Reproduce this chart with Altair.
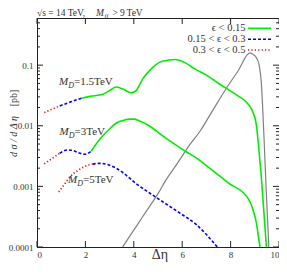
import altair as alt
import pandas as pd

# ---------------- data ----------------
# M_D = 1.5 TeV
md15_red_x = [0.30, 0.62, 0.94]
md15_red_y = [0.01652, 0.01884, 0.02128]
md15_blue_x = [0.94, 1.40, 1.83]
md15_blue_y = [0.02128, 0.02483, 0.02844]
md15_green_x = [1.83, 2.20, 2.72, 3.00, 3.27, 3.55, 3.88, 4.08, 4.36, 4.63, 5.18, 5.72,
                6.13, 6.55, 6.95, 7.36, 7.77, 8.32, 8.73, 8.93, 9.07, 9.17, 9.28, 9.38, 9.48]
md15_green_y = [0.02844, 0.03055, 0.03311, 0.03802, 0.04355, 0.04027, 0.03516, 0.03750,
                0.05834, 0.07980, 0.1164, 0.1239, 0.1091, 0.0851, 0.0705, 0.0547, 0.0425,
                0.0309, 0.0227, 0.0166, 0.0100, 0.00398, 0.00126, 0.000355, 0.0001]

# M_D = 3 TeV
md3_red_x = [0.30, 0.62, 0.94]
md3_red_y = [0.002355, 0.002884, 0.003516]
md3_blue_x = [0.94, 1.10, 1.28, 1.50, 1.75, 1.97, 2.24]
md3_blue_y = [0.003516, 0.003846, 0.003999, 0.003890, 0.003548, 0.003388, 0.003802]
md3_green_x = [2.24, 2.60, 3.06, 3.30, 3.61, 3.81, 4.02, 4.22, 4.63, 5.18, 5.60, 6.13,
               6.55, 7.20, 7.90, 8.73, 8.93, 9.07, 9.17, 9.22]
md3_green_y = [0.003802, 0.006026, 0.009376, 0.01122, 0.01239, 0.01288, 0.01288, 0.01208,
               0.0100, 0.006855, 0.005248, 0.003793, 0.00302, 0.001905, 0.001148,
               0.000628, 0.000407, 0.000245, 0.0001303, 0.0001]

# M_D = 5 TeV
md5_red_x = [0.90, 1.15, 1.42, 1.69, 1.97, 2.30]
md5_red_y = [0.000807, 0.001107, 0.001514, 0.001828, 0.002128, 0.002333]
md5_blue_x = [2.30, 2.58, 3.20, 3.61, 4.02, 4.90, 5.86, 6.55, 7.45]
md5_blue_y = [0.002333, 0.002399, 0.00207, 0.001614, 0.001175, 0.000668, 0.000372,
              0.00024, 0.0001]

# grey curve
grey_x = [3.54, 3.80, 4.09, 4.50, 5.00, 5.32, 5.80, 6.30, 6.75, 7.30, 7.84, 8.30, 8.80,
          8.95, 9.07, 9.18, 9.27, 9.37, 9.47, 9.58]
grey_y = [0.0001, 0.0001445, 0.0002153, 0.00038, 0.000759, 0.001259, 0.002399, 0.004786,
          0.008279, 0.01905, 0.04246, 0.07943, 0.1592, 0.1479, 0.1318, 0.1, 0.0513,
          0.007943, 0.000891, 0.0001]

x_tick_values = [0, 2, 4, 6, 8, 10]
y_tick_values = [0.0001, 0.001, 0.01, 0.1]
y_minor_values = [m * d for d in [0.0001, 0.001, 0.01, 0.1] for m in range(2, 10) if m * d <= 0.6]

legend_labels = ["\u03f5 < 0.15", "0.15 < \u03f5 < 0.3", "0.3 < \u03f5 < 0.5"]


def frame(curves):
    rows = []
    for name, xs, ys in curves:
        for a, b in zip(xs, ys):
            rows.append({"curve": name, "x": a, "y": b})
    return pd.DataFrame(rows)


df_red = frame([("1.5", md15_red_x, md15_red_y), ("3", md3_red_x, md3_red_y),
                ("5", md5_red_x, md5_red_y)])
df_blue = frame([("1.5", md15_blue_x, md15_blue_y), ("3", md3_blue_x, md3_blue_y),
                 ("5", md5_blue_x, md5_blue_y)])
df_green = frame([("1.5", md15_green_x, md15_green_y), ("3", md3_green_x, md3_green_y)])
df_grey = frame([("bg", grey_x, grey_y)])

W, H = 242, 229
FONT = "Liberation Serif"
TXT = "#333333"

xscale = alt.Scale(domain=[0, 10], nice=False, zero=False)
yscale = alt.Scale(type="log", domain=[0.0001, 0.6], nice=False)

x_axis = alt.Axis(values=x_tick_values, format="d", ticks=False, grid=False, title=None,
                  labelPadding=3, labelFont=FONT, labelFontSize=9, labelColor=TXT,
                  domainColor="#222222")
y_axis = alt.Axis(values=y_tick_values, format="~g", ticks=False, grid=False, title=None,
                  labelPadding=4, labelFont=FONT, labelFontSize=9, labelColor=TXT,
                  domainColor="#222222")

X = lambda f: alt.X(f, scale=xscale, axis=x_axis)
Y = lambda f: alt.Y(f, scale=yscale, axis=y_axis)


def line_layer(df, **kw):
    return alt.Chart(df).mark_line(interpolate="monotone", clip=True, **kw).encode(
        x=X("x:Q"), y=Y("y:Q"), detail="curve:N")


grey = line_layer(df_grey, color="#808080", strokeWidth=1.2)
green = line_layer(df_green, color="#00ee00", strokeWidth=1.6)
blue = line_layer(df_blue, color="#0000ff", strokeWidth=1.6, strokeDash=[3, 2])
red = line_layer(df_red, color="#ff0000", strokeWidth=1.6, strokeDash=[1.2, 2.2])

# inward ticks
df_ymaj = pd.DataFrame({"x": [0.0] * len(y_tick_values), "y": y_tick_values})
df_ymin = pd.DataFrame({"x": [0.0] * len(y_minor_values), "y": y_minor_values})
df_xmaj = pd.DataFrame({"x": x_tick_values, "y": [0.0001] * len(x_tick_values)})


def ytick(df, x0, x1):
    return alt.Chart(df).mark_rule(color="#222222", strokeWidth=1).encode(
        y=Y("y:Q"), x=alt.value(x0), x2=alt.value(x1))


def xtick(df, y0, y1):
    return alt.Chart(df).mark_rule(color="#222222", strokeWidth=1).encode(
        x=X("x:Q"), y=alt.value(y0), y2=alt.value(y1))


ticks = [ytick(df_ymaj, 0, 6), ytick(df_ymin, 0, 3), ytick(df_ymaj, W, W - 6),
         ytick(df_ymin, W, W - 3), xtick(df_xmaj, H, H - 6), xtick(df_xmaj, 0, 6)]


def txt(text, x, y, size=10.5, style="normal", align="left", baseline="alphabetic", angle=0):
    kw = dict(text=text, font=FONT, fontSize=size, fontStyle=style, align=align,
              baseline=baseline, color=TXT)
    if angle:
        kw["angle"] = angle
    return alt.Chart(pd.DataFrame({"a": [0]})).mark_text(**kw).encode(
        x=alt.value(x), y=alt.value(y))


texts = [
    # top title
    txt("\u221as = 14 TeV,", 0, -2.5, size=9.5),
    txt("M", 59, -2.5, size=9.5, style="italic"),
    txt("jj", 67.5, 0, size=7, style="italic"),
    txt(">", 75.5, -2.5, size=9.5),
    txt("9", 83, -2.5, size=9.5),
    txt("TeV", 89.5, -2.5, size=9.5),
    # M_D labels
    txt("M", 22, 67, size=11, style="italic"),
    txt("D", 31.2, 69.5, size=8, style="italic"),
    txt("=1.5TeV", 37, 67, size=11),
    txt("M", 22.5, 117, size=11, style="italic"),
    txt("D", 31.7, 119.5, size=8, style="italic"),
    txt("=3TeV", 37.5, 117, size=11),
    txt("M", 31, 165, size=11, style="italic"),
    txt("D", 40.2, 167.5, size=8, style="italic"),
    txt("=5TeV", 46, 165, size=11),
    # axis titles
    txt("d \u03c3 / d \u0394 \u03b7", -19.8, 118.5, size=10,
        style="italic", align="center", angle=270),
    txt("[pb]", -19.8, 80, size=10, align="center", angle=270),
    txt("\u0394\u03b7", 123, 240.5, size=14, align="center"),
    # legend labels
    txt(legend_labels[0], 208.5, 10.3, size=10.5, align="right", baseline="middle"),
    txt(legend_labels[1], 208.5, 21.3, size=10.5, align="right", baseline="middle"),
    txt(legend_labels[2], 208.5, 32, size=10.5, align="right", baseline="middle"),
]


def leg_line(y, **kw):
    return alt.Chart(pd.DataFrame({"a": [0]})).mark_rule(strokeWidth=1.6, **kw).encode(
        x=alt.value(211), x2=alt.value(234), y=alt.value(y))


legend = [leg_line(10.3, color="#00ee00"),
          leg_line(21.3, color="#0000ff", strokeDash=[3, 2]),
          leg_line(32, color="#ff0000", strokeDash=[1.2, 2.2])]

chart = alt.layer(grey, green, blue, red, *ticks, *texts, *legend).properties(
    width=W, height=H,
    autosize=alt.AutoSizeParams(type="none"),
    padding={"left": 29, "top": 10, "right": 0, "bottom": 15},
).configure_view(stroke="#222222", strokeWidth=1)

chart.save("out.html", embed_options={"renderer": "svg", "actions": False})
